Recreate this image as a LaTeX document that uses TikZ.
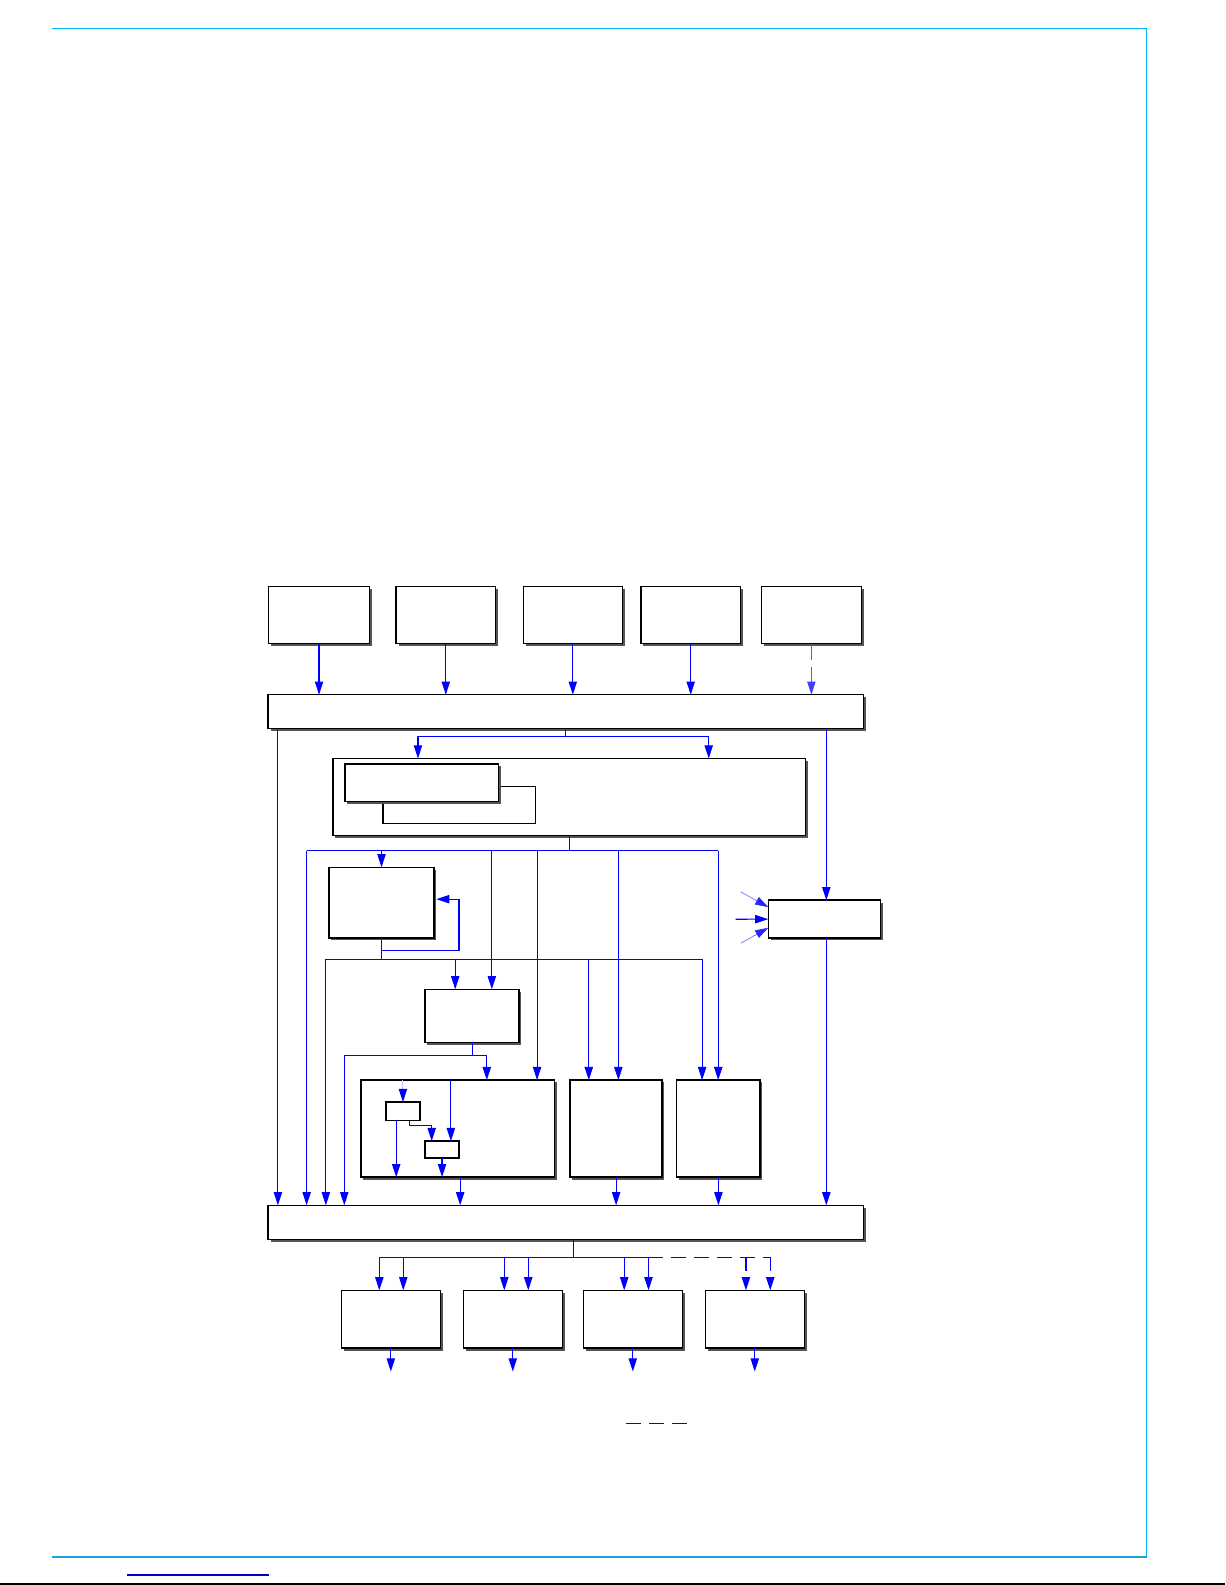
\documentclass[tikz,border=0pt]{standalone}
\usetikzlibrary{arrows.meta,shadows,fit}
\definecolor{framecyan}{HTML}{00B4F0}
\definecolor{framecyanb}{HTML}{1AA2DC}
\definecolor{lineblue}{HTML}{0000FF}
\definecolor{footblue}{HTML}{0000CC}
\definecolor{shadowgray}{HTML}{555555}
\tikzset{
  box/.style={draw=black, fill=white, line width=0.7pt, inner sep=0pt, outer sep=0pt,
    drop shadow={shadow xshift=1.15pt, shadow yshift=-1.15pt, fill=shadowgray, opacity=1}},
  plainbox/.style={draw=black, fill=white, line width=0.7pt, inner sep=0pt, outer sep=0pt},
  conn/.style={draw=lineblue, line width=0.55pt},
  arr/.style={conn, -{Triangle[length=6.5pt,width=4.1pt]}},
  dashconn/.style={draw=lineblue, line width=0.55pt, dash pattern=on 7pt off 4.35pt},
  arrdash/.style={dashconn, -{Triangle[length=6.5pt,width=4.1pt,color=lineblue]}},
  toparrdash/.style={draw=lineblue!65, line width=0.55pt, dash pattern=on 8pt off 3.5pt,
    -{Triangle[length=6.5pt,width=4.1pt,color=lineblue!75]}},
  lightarr/.style={draw=lineblue!22, line width=0.55pt, -{Triangle[length=6.5pt,width=4.1pt,color=lineblue]}},
  diagarr/.style={draw=lineblue!55, line width=0.35pt, -{Triangle[length=6.5pt,width=4.1pt,color=lineblue!85]}},
  framecyanline/.style={draw=framecyan, line width=0.75pt},
}
\begin{document}
\begin{tikzpicture}[x=0.5pt, y=-0.5pt]
\useasboundingbox (0,0) rectangle (1210.5,1566.2);

% page frame
\draw[framecyanline] (51.4,28.2) -- (1133,28.2) -- (1133,1538.5);
\draw[draw=framecyanb, line width=0.75pt] (51.4,1538.5) -- (1133,1538.5);
\draw[draw=footblue, line width=0.65pt] (125.5,1556.3) -- (265.5,1556.3);
\draw[draw=black, line width=0.8pt] (0,1565.4) -- (1210.5,1565.4);

% top row boxes
\node[box, fit={(265.5,579.5) (365,636)}] (t1) {};
\node[box, fit={(391.5,579.5) (489.5,636)}] (t2) {};
\node[box, fit={(517,579.5) (615,636)}] (t3) {};
\node[box, fit={(633.5,579.5) (731.5,636)}] (t4) {};
\node[box, fit={(752.5,579.5) (851,636)}] (t5) {};

% top bar
\node[box, fit={(265,686.5) (853,720)}] (topbar) {};

% big box with inner boxes
\node[box, fit={(329,749.5) (796,825.5)}] (M) {};
\node[plainbox, fit={(378.5,777) (529,814)}] (MB) {};
\node[box, fit={(341,755) (492.5,792)}] (MA) {};

% middle boxes
\node[box, fit={(325,857) (429,927)}] (C) {};
\node[box, fit={(420,977.5) (513,1030)}] (D) {};
\node[box, fit={(759.2,889.5) (870,927)}] (H) {};

% lower boxes
\node[box, fit={(356.7,1067.3) (547.7,1163.2)}] (E) {};
\node[plainbox, fit={(381.3,1089) (415,1107)}] (e1) {};
\node[plainbox, fit={(420,1127.6) (453.6,1144.4)}] (e2) {};
\node[box, fit={(563.3,1067.3) (654.3,1163.2)}] (F) {};
\node[box, fit={(668.7,1067.3) (751.1,1163.2)}] (G) {};

% bottom bar
\node[box, fit={(265,1191) (853,1224.5)}] (botbar) {};

% output boxes
\node[box, fit={(337.3,1275) (435.1,1332.2)}] (K1) {};
\node[box, fit={(457.8,1275) (555.6,1332.2)}] (K2) {};
\node[box, fit={(576.4,1275) (674.2,1332.2)}] (K3) {};
\node[box, fit={(696.9,1275) (794.7,1332.2)}] (K4) {};

% ---- named coordinates
\coordinate (vA) at (274.6,0);
\coordinate (vR) at (816.5,0);
\coordinate (b1) at (413,727.5);
\coordinate (b2) at (700.3,727.5);
\coordinate (h1L) at (303,840.5);
\coordinate (h1R) at (709.7,840.5);
\coordinate (vD1) at (486,0);
\coordinate (vE1) at (530.7,0);
\coordinate (vF1) at (611,0);
\coordinate (fb1) at (453.6,939);
\coordinate (fbT) at (431,888.5);
\coordinate (h2L) at (322,948);
\coordinate (h2R) at (693.8,948);
\coordinate (vD2) at (449.8,0);
\coordinate (vF2) at (581.8,0);
\coordinate (dL) at (340.2,1043);
\coordinate (dR) at (481,1043);
\coordinate (vi) at (445.5,0);
\coordinate (vj) at (391.5,0);
\coordinate (vk) at (404.4,0);
\coordinate (ebend) at (426.6,1111.8);
\coordinate (vE) at (454.7,0);
\coordinate (hin1) at (727,908.3);
\coordinate (hinT) at (732,881.3);
\coordinate (hinB) at (732,932);
\coordinate (bj) at (566.5,1242.3);
\coordinate (bL1) at (374.8,1242.3);
\coordinate (bL2) at (398.5,1242.3);
\coordinate (bM1) at (498.3,1242.3);
\coordinate (bM2) at (522,1242.3);
\coordinate (bN1) at (616.8,1242.3);
\coordinate (bN2) at (640.8,1242.3);
\coordinate (bP1) at (737.1,1242.3);
\coordinate (bP2) at (761.1,1242.3);
\coordinate (oY) at (0,1355.2);
\coordinate (lg1) at (618.5,1407);
\coordinate (lg2) at (678.4,1407);

% ---- connectors: top row to top bar
\draw[arr] (t1.south) -- (t1.south |- topbar.north);
\draw[arr] (t2.south) -- (t2.south |- topbar.north);
\draw[arr] (t3.south) -- (t3.south |- topbar.north);
\draw[arr] (t4.south) -- (t4.south |- topbar.north);
\draw[toparrdash] (t5.south) -- (t5.south |- topbar.north);

% top bar outputs
\draw[arr] (topbar.south -| vA) -- (botbar.north -| vA);
\draw[arr] (topbar.south -| vR) -- (H.north -| vR);
\draw[conn] (topbar.south) -- (topbar.south |- b1);
\draw[conn] (b1) -- (b2);
\draw[arr] (b1) -- (b1 |- M.north);
\draw[arr] (b2) -- (b2 |- M.north);

% big box outputs
\draw[conn] (M.south) -- (M.south |- h1L);
\draw[conn] (h1L) -- (h1R);
\draw[arr] (h1L) -- (botbar.north -| h1L);
\draw[arr] (h1L -| C.north) -- (C.north);
\draw[arr] (h1L -| vD1) -- (D.north -| vD1);
\draw[arr] (h1L -| vE1) -- (E.north -| vE1);
\draw[arr] (h1L -| vF1) -- (F.north -| vF1);
\draw[arr] (h1R) -- (G.north -| h1R);

% box C feedback and outputs
\draw[arr] (C.south) |- (fb1) |- (fbT);
\draw[conn] (C.south) -- (C.south |- h2L);
\draw[conn] (h2L) -- (h2R);
\draw[arr] (h2L) -- (botbar.north -| h2L);
\draw[arr] (h2L -| vD2) -- (D.north -| vD2);
\draw[arr] (h2L -| vF2) -- (F.north -| vF2);
\draw[arr] (h2R) -- (G.north -| h2R);

% box D outputs
\draw[arr] (D.south) |- (dL) -- (botbar.north -| dL);
\draw[arr] (D.south) |- (dR) -- (E.north -| dR);

% inside E
\draw[lightarr] (E.north -| e1.north) -- (e1.north);
\draw[arr] (E.north -| vi) -- (e2.north -| vi);
\draw[arr] (e1.south -| vj) -- (E.south -| vj);
\draw[arr] (e1.south -| vk) |- (ebend) -- (e2.north -| ebend);
\draw[arr] (e2.south) -- (E.south -| e2.south);

% E, F, G, H to bottom bar
\draw[arr] (E.south -| vE) -- (botbar.north -| vE);
\draw[arr] (F.south) -- (botbar.north -| F.south);
\draw[arr] (G.south) -- (botbar.north -| G.south);
\draw[arr] (H.south -| vR) -- (botbar.north -| vR);

% inputs to H
\draw[arr] (hin1) -- (H.west);
\draw[diagarr] (hinT) -- ([yshift=5.95pt]H.west);
\draw[diagarr] (hinB) -- ([yshift=-4.25pt]H.west);

% bottom distribution
\draw[conn] (botbar.south -| bj) -- (bj);
\draw[conn] (bL1) -- (bN2);
\draw[dashconn] (bN2) -- (bP2);
\draw[arr] (bL1) -- (K1.north -| bL1);
\draw[arr] (bL2) -- (K1.north -| bL2);
\draw[arr] (bM1) -- (K2.north -| bM1);
\draw[arr] (bM2) -- (K2.north -| bM2);
\draw[arr] (bN1) -- (K3.north -| bN1);
\draw[arr] (bN2) -- (K3.north -| bN2);
\draw[arrdash] (bP1) -- (K4.north -| bP1);
\draw[arrdash] (bP2) -- (K4.north -| bP2);

% outputs
\draw[arr] (K1.south) -- (K1.south |- oY);
\draw[arr] (K2.south) -- (K2.south |- oY);
\draw[arr] (K3.south) -- (K3.south |- oY);
\draw[arr] (K4.south) -- (K4.south |- oY);

% legend line
\draw[conn, dash pattern=on 7.5pt off 4pt] (lg1) -- (lg2);
\end{tikzpicture}
\end{document}
